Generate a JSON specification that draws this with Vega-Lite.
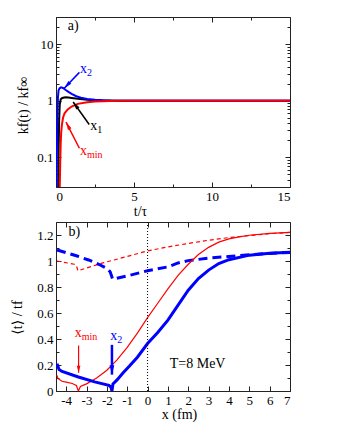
{
  "$schema": "https://vega.github.io/schema/vega-lite/v6.json",
  "padding": {"left": 10, "top": 16, "right": 5, "bottom": 5},
  "spacing": 2,
  "config": {
    "font": "Liberation Serif, Times New Roman, DejaVu Serif, serif",
    "view": {"stroke": "#222222", "strokeWidth": 1},
    "axis": {
      "labelFont": "Liberation Serif, Times New Roman, DejaVu Serif, serif", "labelFontSize": 13, "labelColor": "black",
      "titleFont": "Liberation Serif, Times New Roman, DejaVu Serif, serif", "titleFontSize": 14, "titleFontWeight": "normal", "titleColor": "black",
      "domainColor": "#222222", "tickColor": "#222222", "grid": false,
      "tickSize": -5, "labelPadding": 8, "titlePadding": -3
    },
    "text": {"font": "Liberation Serif, Times New Roman, DejaVu Serif, serif"}
  },
  "datasets": {
    "ka": [
      {"s": "x1", "t": 0.14, "k": 0.03}, {"s": "x1", "t": 0.17, "k": 0.15}, {"s": "x1", "t": 0.2, "k": 0.45},
      {"s": "x1", "t": 0.24, "k": 0.85}, {"s": "x1", "t": 0.3, "k": 1.06}, {"s": "x1", "t": 0.4, "k": 1.12},
      {"s": "x1", "t": 0.6, "k": 1.15}, {"s": "x1", "t": 0.8, "k": 1.14}, {"s": "x1", "t": 1.0, "k": 1.12},
      {"s": "x1", "t": 1.4, "k": 1.08}, {"s": "x1", "t": 2.0, "k": 1.04}, {"s": "x1", "t": 2.5, "k": 1.02},
      {"s": "x1", "t": 3.0, "k": 1.01}, {"s": "x1", "t": 4.0, "k": 1.0}, {"s": "x1", "t": 15, "k": 1.0},
      {"s": "x2", "t": 0.03, "k": 0.03}, {"s": "x2", "t": 0.06, "k": 0.15}, {"s": "x2", "t": 0.09, "k": 0.5},
      {"s": "x2", "t": 0.12, "k": 1.1}, {"s": "x2", "t": 0.16, "k": 1.5}, {"s": "x2", "t": 0.22, "k": 1.65},
      {"s": "x2", "t": 0.32, "k": 1.72}, {"s": "x2", "t": 0.45, "k": 1.68}, {"s": "x2", "t": 0.6, "k": 1.56},
      {"s": "x2", "t": 0.8, "k": 1.43}, {"s": "x2", "t": 1.0, "k": 1.32}, {"s": "x2", "t": 1.3, "k": 1.2},
      {"s": "x2", "t": 1.6, "k": 1.13}, {"s": "x2", "t": 2.0, "k": 1.07}, {"s": "x2", "t": 2.5, "k": 1.035},
      {"s": "x2", "t": 3.0, "k": 1.015}, {"s": "x2", "t": 3.5, "k": 1.005}, {"s": "x2", "t": 4.5, "k": 1.0},
      {"s": "x2", "t": 15, "k": 1.0},
      {"s": "xmin", "t": 0.24, "k": 0.03}, {"s": "xmin", "t": 0.27, "k": 0.08}, {"s": "xmin", "t": 0.3, "k": 0.17},
      {"s": "xmin", "t": 0.33, "k": 0.27}, {"s": "xmin", "t": 0.38, "k": 0.38}, {"s": "xmin", "t": 0.45, "k": 0.5},
      {"s": "xmin", "t": 0.55, "k": 0.6}, {"s": "xmin", "t": 0.75, "k": 0.7}, {"s": "xmin", "t": 1.0, "k": 0.79},
      {"s": "xmin", "t": 1.4, "k": 0.88}, {"s": "xmin", "t": 2.0, "k": 0.94}, {"s": "xmin", "t": 2.5, "k": 0.965},
      {"s": "xmin", "t": 3.0, "k": 0.98}, {"s": "xmin", "t": 4.0, "k": 0.995}, {"s": "xmin", "t": 5.0, "k": 1.0},
      {"s": "xmin", "t": 15, "k": 1.0}
    ],
    "kaArrows": [
      {"s": "x2", "t0": 1.5, "k0": 3.16, "t1": 0.53, "k1": 1.66},
      {"s": "x1", "t0": 2.13, "k0": 0.38, "t1": 1.1, "k1": 0.95},
      {"s": "xmin", "t0": 1.5, "k0": 0.145, "t1": 0.64, "k1": 0.42}
    ],
    "kaLabels": [
      {"s": "x2", "t": 1.54, "k": 3.68, "sub": "2"},
      {"s": "x1", "t": 2.2, "k": 0.353, "sub": "1"},
      {"s": "xmin", "t": 1.54, "k": 0.128, "sub": "min"}
    ],
    "kaPanel": [{"t": 0.75, "k": 20.7, "txt": "a)"}],
    "tb": [
      {"c": "rd", "x": -4.45, "y": 1.0}, {"c": "rd", "x": -3.6, "y": 0.975}, {"c": "rd", "x": -3.5, "y": 0.965},
      {"c": "rd", "x": -3.42, "y": 0.925}, {"c": "rd", "x": -2.2, "y": 0.985}, {"c": "rd", "x": -1.0, "y": 1.035},
      {"c": "rd", "x": 0, "y": 1.078}, {"c": "rd", "x": 1, "y": 1.108}, {"c": "rd", "x": 2, "y": 1.135},
      {"c": "rd", "x": 3, "y": 1.16}, {"c": "rd", "x": 4, "y": 1.18}, {"c": "rd", "x": 5, "y": 1.195},
      {"c": "rd", "x": 6, "y": 1.21}, {"c": "rd", "x": 7, "y": 1.22},
      {"c": "bd", "x": -4.45, "y": 1.085}, {"c": "bd", "x": -3.5, "y": 1.04}, {"c": "bd", "x": -2.9, "y": 1.008},
      {"c": "bd", "x": -2.4, "y": 0.975}, {"c": "bd", "x": -2.0, "y": 0.943}, {"c": "bd", "x": -1.84, "y": 0.917},
      {"c": "bd", "x": -1.76, "y": 0.88}, {"c": "bd", "x": -1.72, "y": 0.861}, {"c": "bd", "x": -1.0, "y": 0.885},
      {"c": "bd", "x": 0, "y": 0.925}, {"c": "bd", "x": 1, "y": 0.955}, {"c": "bd", "x": 1.5, "y": 0.985},
      {"c": "bd", "x": 2, "y": 1.003}, {"c": "bd", "x": 3, "y": 1.022}, {"c": "bd", "x": 4, "y": 1.035},
      {"c": "bd", "x": 5, "y": 1.048}, {"c": "bd", "x": 6, "y": 1.058}, {"c": "bd", "x": 7, "y": 1.066},
      {"c": "rs", "x": -4.45, "y": 0.12}, {"c": "rs", "x": -4.4, "y": 0.095}, {"c": "rs", "x": -4.2, "y": 0.075},
      {"c": "rs", "x": -4.0, "y": 0.068}, {"c": "rs", "x": -3.7, "y": 0.058}, {"c": "rs", "x": -3.5, "y": 0.042},
      {"c": "rs", "x": -3.4, "y": 0.0}, {"c": "rs", "x": -3.3, "y": 0.035}, {"c": "rs", "x": -3.15, "y": 0.045},
      {"c": "rs", "x": -3.0, "y": 0.055}, {"c": "rs", "x": -2.5, "y": 0.1}, {"c": "rs", "x": -2.0, "y": 0.16},
      {"c": "rs", "x": -1.5, "y": 0.24}, {"c": "rs", "x": -1.0, "y": 0.335}, {"c": "rs", "x": -0.5, "y": 0.445},
      {"c": "rs", "x": 0, "y": 0.565}, {"c": "rs", "x": 0.5, "y": 0.675}, {"c": "rs", "x": 1, "y": 0.785},
      {"c": "rs", "x": 1.5, "y": 0.89}, {"c": "rs", "x": 2, "y": 0.975}, {"c": "rs", "x": 2.5, "y": 1.05},
      {"c": "rs", "x": 3, "y": 1.105}, {"c": "rs", "x": 3.5, "y": 1.145}, {"c": "rs", "x": 4, "y": 1.17},
      {"c": "rs", "x": 4.5, "y": 1.185}, {"c": "rs", "x": 5, "y": 1.198}, {"c": "rs", "x": 6, "y": 1.212},
      {"c": "rs", "x": 7, "y": 1.22},
      {"c": "bs", "x": -4.45, "y": 0.21}, {"c": "bs", "x": -4.35, "y": 0.165}, {"c": "bs", "x": -4.2, "y": 0.15},
      {"c": "bs", "x": -3.4, "y": 0.108}, {"c": "bs", "x": -2.6, "y": 0.07}, {"c": "bs", "x": -1.9, "y": 0.044},
      {"c": "bs", "x": -1.8, "y": 0.03}, {"c": "bs", "x": -1.75, "y": 0.0}, {"c": "bs", "x": -1.7, "y": 0.055},
      {"c": "bs", "x": -1.5, "y": 0.085}, {"c": "bs", "x": -1.2, "y": 0.14}, {"c": "bs", "x": -0.9, "y": 0.19},
      {"c": "bs", "x": -0.5, "y": 0.26}, {"c": "bs", "x": 0, "y": 0.365}, {"c": "bs", "x": 0.5, "y": 0.45},
      {"c": "bs", "x": 1, "y": 0.545}, {"c": "bs", "x": 1.5, "y": 0.66}, {"c": "bs", "x": 2, "y": 0.775},
      {"c": "bs", "x": 2.5, "y": 0.865}, {"c": "bs", "x": 3, "y": 0.93}, {"c": "bs", "x": 3.5, "y": 0.98},
      {"c": "bs", "x": 4, "y": 1.01}, {"c": "bs", "x": 5, "y": 1.045}, {"c": "bs", "x": 6, "y": 1.06},
      {"c": "bs", "x": 7, "y": 1.068}
    ],
    "tbZero": [{"x": 0}],
    "tbArrows": [
      {"s": "xmin", "x0": -3.39, "y0": 0.35, "x1": -3.39, "y1": 0.14},
      {"s": "x2", "x0": -1.75, "y0": 0.355, "x1": -1.75, "y1": 0.126}
    ],
    "tbLabels": [
      {"s": "xmin", "x": -3.58, "y": 0.45, "sub": "min"},
      {"s": "x2", "x": -1.84, "y": 0.424, "sub": "2"}
    ],
    "tbText": [
      {"x": -3.88, "y": 1.226, "txt": "b)"},
      {"x": 1.09, "y": 0.21, "txt": "T=8 MeV"}
    ]
  },
  "vconcat": [
    {
      "width": 234,
      "height": 170,
      "resolve": {"axis": {"x": "independent", "y": "independent"}},
      "layer": [
        {
          "data": {"name": "ka"},
          "transform": [{"filter": "datum.s === 'x1'"}],
          "mark": {"type": "line", "strokeWidth": 2, "clip": true, "color": "black"},
          "encoding": {
            "x": {"field": "t", "type": "quantitative", "scale": {"domain": [0, 15], "nice": false},
                  "axis": {"orient": "bottom", "values": [0, 5, 10, 15], "title": "t/τ", "titlePadding": 1, "titleX": 84, "titleAlign": "center", "labelExpr": "'' + datum.value"}},
            "y": {"field": "k", "type": "quantitative", "scale": {"type": "log", "domain": [0.03, 30], "nice": false},
                  "axis": {"orient": "left", "values": [0.1, 1, 10], "title": "kf(t) / kf∞", "titlePadding": 6, "titleY": 88, "labelExpr": "'' + datum.value"}}
          }
        },
        {
          "data": {"name": "ka"},
          "transform": [{"filter": "datum.s === 'x2'"}],
          "mark": {"type": "line", "strokeWidth": 2, "clip": true, "color": "#0000ff"},
          "encoding": {
            "x": {"field": "t", "type": "quantitative", "scale": {"domain": [0, 15], "nice": false},
                  "axis": {"orient": "top", "values": [0, 5, 10, 15], "labels": false, "domain": false, "title": null}},
            "y": {"field": "k", "type": "quantitative", "scale": {"type": "log", "domain": [0.03, 30], "nice": false},
                  "axis": {"orient": "right", "values": [0.1, 1, 10], "labels": false, "domain": false, "title": null}}
          }
        },
        {
          "data": {"name": "ka"},
          "transform": [{"filter": "datum.s === 'xmin'"}],
          "mark": {"type": "line", "strokeWidth": 2, "clip": true, "color": "#ff0000"},
          "encoding": {
            "x": {"field": "t", "type": "quantitative", "scale": {"domain": [0, 15], "nice": false},
                  "axis": {"orient": "bottom", "values": [2.5, 7.5, 12.5], "labels": false, "domain": false, "title": null, "tickSize": -3}},
            "y": {"field": "k", "type": "quantitative", "scale": {"type": "log", "domain": [0.03, 30], "nice": false},
                  "axis": {"orient": "left", "values": [0.04, 0.05, 0.06, 0.07, 0.08, 0.09, 0.2, 0.3, 0.4, 0.5, 0.6, 0.7, 0.8, 0.9, 2, 3, 4, 5, 6, 7, 8, 9, 20], "labels": false, "domain": false, "title": null, "tickSize": -3}}
          }
        },
        {
          "data": {"name": "kaArrows"},
          "mark": {"type": "rule", "strokeWidth": 1.5},
          "encoding": {
            "x": {"field": "t0", "type": "quantitative", "scale": {"domain": [0, 15], "nice": false},
                  "axis": {"orient": "top", "values": [2.5, 7.5, 12.5], "labels": false, "domain": false, "title": null, "tickSize": -3}},
            "y": {"field": "k0", "type": "quantitative", "scale": {"type": "log", "domain": [0.03, 30], "nice": false},
                  "axis": {"orient": "right", "values": [0.04, 0.05, 0.06, 0.07, 0.08, 0.09, 0.2, 0.3, 0.4, 0.5, 0.6, 0.7, 0.8, 0.9, 2, 3, 4, 5, 6, 7, 8, 9, 20], "labels": false, "domain": false, "title": null, "tickSize": -3}},
            "x2": {"field": "t1"},
            "y2": {"field": "k1"},
            "color": {"field": "s", "type": "nominal", "scale": {"domain": ["x1", "x2", "xmin"], "range": ["black", "#0000ff", "#ff0000"]}, "legend": null}
          }
        },
        {
          "data": {"name": "kaArrows"},
          "transform": [{"filter": "datum.s === 'x2'"}],
          "mark": {"type": "point", "shape": "M0,0L-0.25,1L0.25,1Z", "filled": true, "opacity": 1, "size": 256, "angle": 224},
          "encoding": {
            "x": {"field": "t1", "type": "quantitative", "axis": null},
            "y": {"field": "k1", "type": "quantitative", "axis": null},
            "color": {"field": "s", "type": "nominal", "legend": null}
          }
        },
        {
          "data": {"name": "kaArrows"},
          "transform": [{"filter": "datum.s === 'x1'"}],
          "mark": {"type": "point", "shape": "M0,0L-0.25,1L0.25,1Z", "filled": true, "opacity": 1, "size": 256, "angle": 324},
          "encoding": {
            "x": {"field": "t1", "type": "quantitative", "axis": null},
            "y": {"field": "k1", "type": "quantitative", "axis": null},
            "color": {"field": "s", "type": "nominal", "legend": null}
          }
        },
        {
          "data": {"name": "kaArrows"},
          "transform": [{"filter": "datum.s === 'xmin'"}],
          "mark": {"type": "point", "shape": "M0,0L-0.25,1L0.25,1Z", "filled": true, "opacity": 1, "size": 256, "angle": 332},
          "encoding": {
            "x": {"field": "t1", "type": "quantitative", "axis": null},
            "y": {"field": "k1", "type": "quantitative", "axis": null},
            "color": {"field": "s", "type": "nominal", "legend": null}
          }
        },
        {
          "data": {"name": "kaLabels"},
          "mark": {"type": "text", "text": "x", "align": "left", "baseline": "middle", "fontSize": 14},
          "encoding": {
            "x": {"field": "t", "type": "quantitative", "axis": null},
            "y": {"field": "k", "type": "quantitative", "axis": null},
            "color": {"field": "s", "type": "nominal", "legend": null}
          }
        },
        {
          "data": {"name": "kaLabels"},
          "mark": {"type": "text", "align": "left", "baseline": "middle", "fontSize": 10, "dx": 7, "dy": 4},
          "encoding": {
            "x": {"field": "t", "type": "quantitative", "axis": null},
            "y": {"field": "k", "type": "quantitative", "axis": null},
            "text": {"field": "sub"},
            "color": {"field": "s", "type": "nominal", "legend": null}
          }
        },
        {
          "data": {"name": "kaPanel"},
          "mark": {"type": "text", "align": "left", "baseline": "middle", "fontSize": 14, "color": "black"},
          "encoding": {
            "x": {"field": "t", "type": "quantitative", "axis": null},
            "y": {"field": "k", "type": "quantitative", "axis": null},
            "text": {"field": "txt"}
          }
        }
      ]
    },
    {
      "width": 234,
      "height": 169,
      "resolve": {"axis": {"x": "independent", "y": "independent"}},
      "layer": [
        {
          "data": {"name": "tb"},
          "transform": [{"filter": "datum.c === 'rd'"}],
          "mark": {"type": "line", "strokeWidth": 1.2, "strokeDash": [4, 3], "color": "#ff0000", "clip": true},
          "encoding": {
            "x": {"field": "x", "type": "quantitative", "scale": {"domain": [-4.5, 7], "nice": false},
                  "axis": {"orient": "bottom", "values": [-4, -3, -2, -1, 0, 1, 2, 3, 4, 5, 6, 7], "title": "x (fm)", "titlePadding": 0, "titleX": 123, "titleAlign": "center", "labelExpr": "'' + datum.value"}},
            "y": {"field": "y", "type": "quantitative", "scale": {"domain": [0, 1.3], "nice": false},
                  "axis": {"orient": "left", "values": [0, 0.2, 0.4, 0.6, 0.8, 1, 1.2], "title": "⟨t⟩ / tf", "titlePadding": 12, "titleY": 95, "labelExpr": "'' + datum.value"}}
          }
        },
        {
          "data": {"name": "tb"},
          "transform": [{"filter": "datum.c === 'bd'"}],
          "mark": {"type": "line", "strokeWidth": 3, "strokeDash": [9, 5], "color": "#0000ff", "clip": true},
          "encoding": {
            "x": {"field": "x", "type": "quantitative", "scale": {"domain": [-4.5, 7], "nice": false},
                  "axis": {"orient": "top", "values": [-4, -3, -2, -1, 0, 1, 2, 3, 4, 5, 6, 7], "labels": false, "domain": false, "title": null}},
            "y": {"field": "y", "type": "quantitative", "scale": {"domain": [0, 1.3], "nice": false},
                  "axis": {"orient": "right", "values": [0, 0.2, 0.4, 0.6, 0.8, 1, 1.2], "labels": false, "domain": false, "title": null}}
          }
        },
        {
          "data": {"name": "tb"},
          "transform": [{"filter": "datum.c === 'rs'"}],
          "mark": {"type": "line", "strokeWidth": 1.2, "color": "#ff0000", "clip": true},
          "encoding": {
            "x": {"field": "x", "type": "quantitative", "scale": {"domain": [-4.5, 7], "nice": false}, "axis": null},
            "y": {"field": "y", "type": "quantitative", "scale": {"domain": [0, 1.3], "nice": false},
                  "axis": {"orient": "left", "values": [0.1, 0.3, 0.5, 0.7, 0.9, 1.1], "labels": false, "domain": false, "title": null, "tickSize": -3}}
          }
        },
        {
          "data": {"name": "tb"},
          "transform": [{"filter": "datum.c === 'bs'"}],
          "mark": {"type": "line", "strokeWidth": 3, "color": "#0000ff", "clip": true},
          "encoding": {
            "x": {"field": "x", "type": "quantitative", "scale": {"domain": [-4.5, 7], "nice": false}, "axis": null},
            "y": {"field": "y", "type": "quantitative", "scale": {"domain": [0, 1.3], "nice": false},
                  "axis": {"orient": "right", "values": [0.1, 0.3, 0.5, 0.7, 0.9, 1.1], "labels": false, "domain": false, "title": null, "tickSize": -3}}
          }
        },
        {
          "data": {"name": "tbZero"},
          "mark": {"type": "rule", "strokeDash": [1, 2], "strokeWidth": 1, "color": "black"},
          "encoding": {
            "x": {"field": "x", "type": "quantitative", "axis": null}
          }
        },
        {
          "data": {"name": "tbArrows"},
          "mark": {"type": "rule"},
          "encoding": {
            "x": {"field": "x0", "type": "quantitative", "axis": null},
            "y": {"field": "y0", "type": "quantitative", "axis": null},
            "x2": {"field": "x1"},
            "y2": {"field": "y1"},
            "color": {"field": "s", "type": "nominal", "scale": {"domain": ["xmin", "x2"], "range": ["#ff0000", "#0000ff"]}, "legend": null},
            "strokeWidth": {"field": "s", "type": "nominal", "scale": {"domain": ["xmin", "x2"], "range": [1.2, 2.5]}, "legend": null}
          }
        },
        {
          "data": {"name": "tbArrows"},
          "mark": {"type": "point", "shape": "M0,0L-0.25,1L0.25,1Z", "filled": true, "opacity": 1, "angle": 180},
          "encoding": {
            "x": {"field": "x1", "type": "quantitative", "axis": null},
            "y": {"field": "y1", "type": "quantitative", "axis": null},
            "color": {"field": "s", "type": "nominal", "legend": null},
            "size": {"field": "s", "type": "nominal", "scale": {"domain": ["xmin", "x2"], "range": [200, 360]}, "legend": null}
          }
        },
        {
          "data": {"name": "tbLabels"},
          "mark": {"type": "text", "text": "x", "align": "left", "baseline": "middle", "fontSize": 14},
          "encoding": {
            "x": {"field": "x", "type": "quantitative", "axis": null},
            "y": {"field": "y", "type": "quantitative", "axis": null},
            "color": {"field": "s", "type": "nominal", "legend": null}
          }
        },
        {
          "data": {"name": "tbLabels"},
          "mark": {"type": "text", "align": "left", "baseline": "middle", "fontSize": 10, "dx": 7, "dy": 4},
          "encoding": {
            "x": {"field": "x", "type": "quantitative", "axis": null},
            "y": {"field": "y", "type": "quantitative", "axis": null},
            "text": {"field": "sub"},
            "color": {"field": "s", "type": "nominal", "legend": null}
          }
        },
        {
          "data": {"name": "tbText"},
          "mark": {"type": "text", "align": "left", "baseline": "middle", "fontSize": 14, "color": "black"},
          "encoding": {
            "x": {"field": "x", "type": "quantitative", "axis": null},
            "y": {"field": "y", "type": "quantitative", "axis": null},
            "text": {"field": "txt"}
          }
        }
      ]
    }
  ]
}
